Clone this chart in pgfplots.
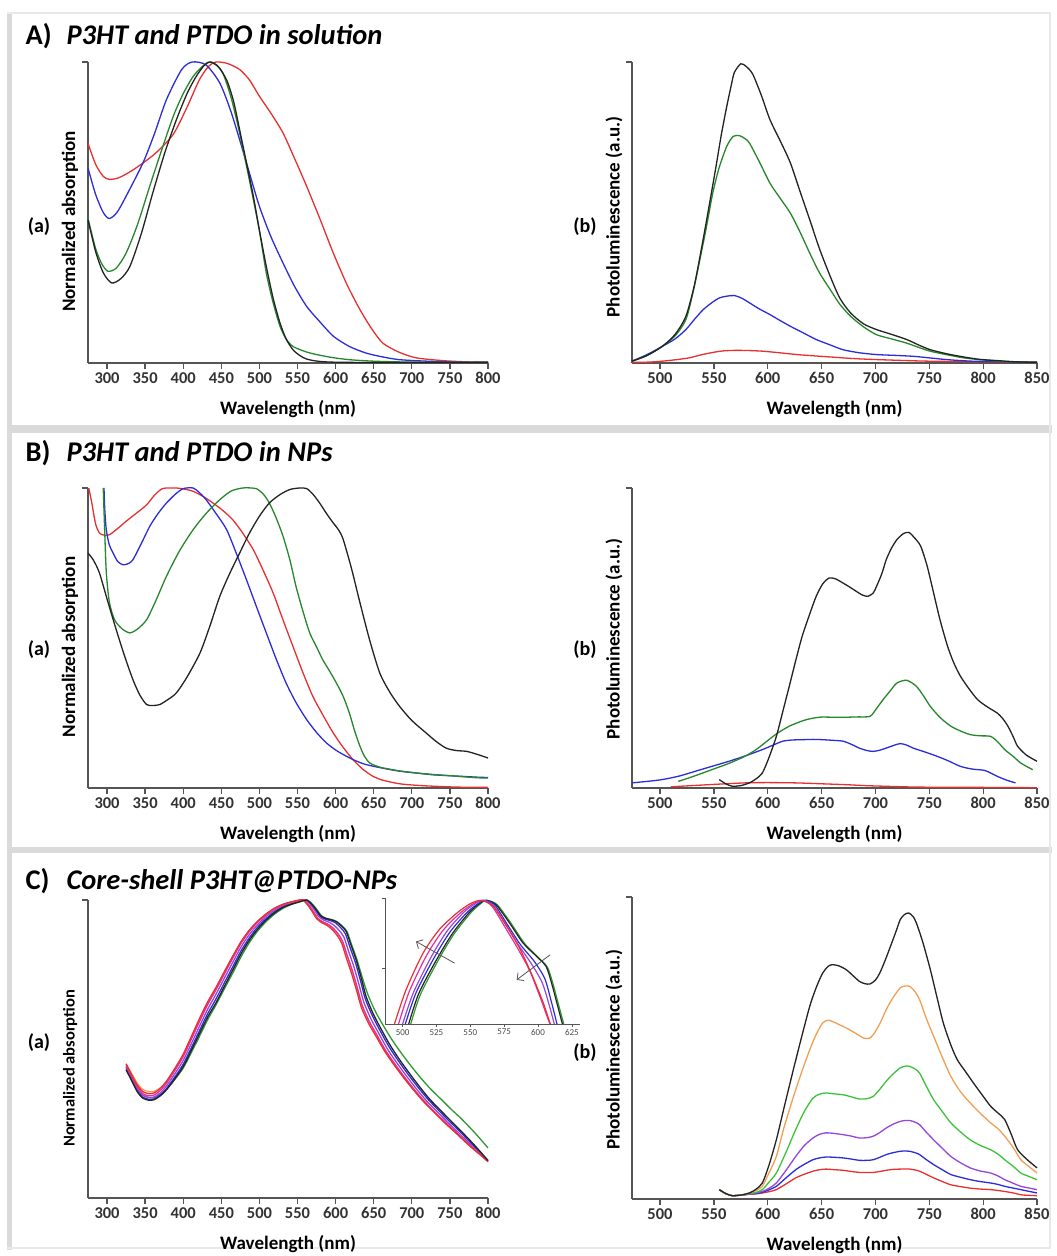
\documentclass[border=0pt]{standalone}
\usepackage{pgfplots}
\pgfplotsset{compat=1.18}
\usepackage{fontspec}
\setmainfont{Carlito}
\usetikzlibrary{arrows.meta}

\definecolor{axgray}{RGB}{85,85,85}
\definecolor{sepgray}{RGB}{218,218,218}
\definecolor{cRed}{RGB}{232,48,48}
\definecolor{cBlue}{RGB}{45,45,215}
\definecolor{cGreen}{RGB}{40,135,45}
\definecolor{cBlack}{RGB}{35,35,35}
\definecolor{cOrange}{RGB}{240,160,85}
\definecolor{cLGreen}{RGB}{60,195,60}
\definecolor{cViolet}{RGB}{150,70,220}
\definecolor{cMagenta}{RGB}{228,45,160}

\newcommand\tickfont{\fontsize{16.5}{16.5}\selectfont\bfseries}
\newcommand\labfont{\fontsize{19}{19}\selectfont\bfseries}
\newcommand\panfont{\fontsize{28.5}{28.5}\selectfont\bfseries}
\newcommand\subfont{\fontsize{20}{20}\selectfont\bfseries}

\pgfplotsset{
  panel/.style={
    scale only axis, clip=false, anchor=south west,
    axis x line=bottom, axis y line=left,
    axis line style={-, draw=axgray, line width=1.8pt},
    ymin=0, ymax=1, ytick={1}, yticklabels={},
    tick align=outside, major tick length=6pt,
    tick style={draw=axgray, line width=1.3pt},
    /pgf/number format/assume math mode=true,
    /pgf/number format/set thousands separator={},
    xticklabel style={font=\tickfont, text=black!80},
    every axis x label/.style={at={(axis description cs:0.5,0)}, anchor=center, yshift=-46pt, font=\labfont},
    every axis y label/.style={at={(axis description cs:0,0.47)}, anchor=center, xshift=-18pt, rotate=90, font=\labfont},
    xlabel={Wavelength (nm)},
    every axis plot/.append style={line width=1.3pt, smooth, tension=0.45},
  },
  absorb/.style={panel, width=400pt, xmin=275, xmax=800, xtick={300,350,...,800}, ylabel={Normalized absorption}},
  lumin/.style={panel, width=405pt, xmin=474, xmax=850, xtick={500,550,...,850}, ylabel={Photoluminescence (a.u.)}},
}

\begin{document}
\begin{tikzpicture}
\useasboundingbox (0,0) rectangle (1057pt,1256pt);
\fill[white] (0,0) rectangle (1057pt,1256pt);
% frame and separators
\fill[sepgray] (7pt,6pt) rectangle (12pt,1243pt);
\fill[sepgray] (7pt,823pt) rectangle (1052pt,831pt);
\fill[sepgray] (7pt,403pt) rectangle (1052pt,409pt);
\draw[sepgray!60, line width=1.5pt] (7pt,1243pt) -- (1050pt,1243pt) -- (1050pt,8pt) -- (7pt,8pt);

% titles
\node[anchor=base west, font=\panfont] at (22pt,1211pt) {A)};
\node[anchor=base west, font=\panfont\itshape] at (63pt,1211pt) {P3HT and PTDO in solution};
\node[anchor=base west, font=\panfont] at (22pt,794pt) {B)};
\node[anchor=base west, font=\panfont\itshape] at (63pt,794pt) {P3HT and PTDO in NPs};
\node[anchor=base west, font=\panfont] at (22pt,366pt) {C)};
\node[anchor=base west, font=\panfont\itshape] at (63pt,366pt) {Core-shell P3HT@PTDO-NPs};

\node[font=\subfont] at (39pt,1029pt) {(a)};
\node[font=\subfont] at (585pt,1029pt) {(b)};
\node[font=\subfont] at (39pt,606pt) {(a)};
\node[font=\subfont] at (585pt,606pt) {(b)};
\node[font=\subfont] at (39pt,213pt) {(a)};
\node[font=\subfont] at (585pt,203pt) {(b)};

% ---------- A (a) ----------
\begin{axis}[absorb, height=301pt, at={(88pt,893pt)}]
\addplot[cRed] coordinates {(275,0.73)(285,0.66)(295,0.62)(303,0.61)(315,0.615)(330,0.635)(347,0.664)(365,0.70)(387,0.76)(405,0.85)(421,0.94)(433,0.985)(443,1.0)(458,0.995)(474,0.975)(487,0.94)(500,0.886)(515,0.83)(531,0.764)(546,0.68)(562,0.587)(580,0.475)(597,0.365)(615,0.26)(632,0.177)(647,0.115)(662,0.066)(684,0.035)(706,0.017)(740,0.008)(770,0.004)(800,0.002)};
\addplot[cBlue] coordinates {(275,0.648)(285,0.56)(295,0.50)(303,0.48)(313,0.50)(325,0.554)(347,0.664)(362,0.76)(378,0.875)(398,0.975)(412,1.0)(430,0.99)(448,0.93)(462,0.84)(474,0.742)(487,0.63)(500,0.52)(515,0.42)(531,0.332)(546,0.255)(562,0.188)(580,0.135)(597,0.089)(618,0.055)(640,0.033)(662,0.02)(684,0.011)(720,0.006)(760,0.003)(800,0.002)};
\addplot[cGreen] coordinates {(275,0.48)(285,0.38)(293,0.33)(301,0.305)(312,0.315)(325,0.365)(340,0.46)(356,0.587)(372,0.71)(387,0.82)(400,0.895)(413,0.952)(425,0.985)(434,1.0)(443,0.99)(452,0.963)(463,0.88)(474,0.764)(483,0.655)(492,0.543)(500,0.44)(509,0.299)(518,0.2)(527,0.122)(535,0.08)(544,0.055)(560,0.038)(575,0.028)(596,0.018)(618,0.011)(650,0.006)(700,0.003)(800,0.002)};
\addplot[cBlack] coordinates {(275,0.476)(285,0.37)(295,0.30)(306,0.266)(318,0.28)(330,0.321)(345,0.43)(360,0.565)(376,0.70)(391,0.808)(405,0.895)(417,0.952)(428,0.99)(436,1.0)(446,0.985)(457,0.94)(466,0.87)(474,0.775)(483,0.665)(492,0.554)(500,0.44)(509,0.321)(518,0.215)(527,0.133)(535,0.08)(544,0.044)(553,0.025)(562,0.013)(580,0.005)(620,0.002)(800,0.002)};
\end{axis}

% ---------- A (b) ----------
\begin{axis}[lumin, height=301pt, at={(632pt,893pt)}, every axis y label/.append style={at={(axis description cs:0,0.485)}}]
\addplot[cRed] coordinates {(474,0.002)(490,0.003)(502,0.006)(515,0.011)(527,0.017)(537,0.026)(546,0.033)(558,0.04)(571,0.042)(585,0.041)(596,0.039)(611,0.034)(627,0.028)(642,0.024)(658,0.02)(674,0.016)(689,0.013)(720,0.009)(750,0.006)(800,0.004)(850,0.003)};
\addplot[cBlue] coordinates {(474,0.006)(488,0.028)(502,0.055)(514,0.08)(524,0.111)(532,0.145)(540,0.177)(548,0.2)(555,0.216)(562,0.222)(569,0.224)(576,0.215)(583,0.2)(592,0.18)(602,0.161)(611,0.142)(621,0.122)(633,0.1)(645,0.078)(658,0.06)(670,0.044)(685,0.034)(701,0.028)(720,0.025)(736,0.022)(750,0.017)(767,0.011)(790,0.006)(820,0.004)(850,0.002)};
\addplot[cGreen] coordinates {(474,0.006)(488,0.025)(502,0.055)(514,0.09)(524,0.144)(531,0.24)(537,0.343)(543,0.45)(549,0.565)(555,0.65)(562,0.72)(568,0.753)(574,0.755)(579,0.745)(583,0.731)(592,0.67)(602,0.598)(611,0.55)(621,0.498)(630,0.435)(639,0.365)(648,0.3)(658,0.244)(667,0.195)(677,0.155)(689,0.12)(701,0.094)(715,0.08)(729,0.066)(740,0.052)(751,0.039)(767,0.027)(782,0.017)(800,0.01)(820,0.005)(850,0.002)};
\addplot[cBlack] coordinates {(474,0.006)(488,0.025)(502,0.055)(514,0.095)(524,0.155)(532,0.26)(540,0.41)(546,0.53)(552,0.653)(557,0.76)(562,0.853)(566,0.92)(569,0.965)(575,0.994)(580,0.985)(586,0.96)(594,0.89)(602,0.809)(612,0.735)(621,0.665)(630,0.57)(639,0.476)(648,0.38)(658,0.288)(667,0.215)(677,0.166)(689,0.13)(701,0.111)(715,0.095)(729,0.078)(740,0.06)(751,0.044)(767,0.03)(782,0.02)(797,0.012)(813,0.008)(830,0.004)(850,0.002)};
\end{axis}

% ---------- B (a) ----------
\begin{axis}[absorb, height=300pt, at={(88pt,468pt)}]
\addplot[cRed] coordinates {(276,1.0)(280,0.95)(285,0.88)(290,0.85)(296,0.843)(303,0.844)(314,0.865)(325,0.889)(338,0.915)(352,0.944)(362,0.975)(373,0.998)(391,1.0)(402,0.996)(413,0.989)(426,0.972)(439,0.95)(452,0.925)(465,0.894)(478,0.85)(492,0.794)(505,0.725)(518,0.65)(531,0.56)(544,0.472)(557,0.385)(570,0.306)(584,0.24)(597,0.183)(610,0.135)(623,0.094)(636,0.062)(649,0.039)(662,0.026)(684,0.014)(706,0.009)(728,0.006)(760,0.003)(800,0.002)};
\addplot[cBlue] coordinates {(296,1.0)(297,0.93)(299,0.861)(303,0.81)(308,0.783)(314,0.755)(321,0.744)(328,0.748)(334,0.761)(345,0.815)(356,0.872)(367,0.915)(378,0.95)(390,0.98)(400,0.998)(413,1.0)(421,0.985)(430,0.961)(443,0.915)(457,0.861)(470,0.78)(483,0.694)(496,0.605)(509,0.517)(522,0.43)(535,0.35)(548,0.285)(562,0.228)(575,0.185)(588,0.15)(601,0.125)(614,0.106)(627,0.09)(640,0.078)(662,0.066)(684,0.056)(706,0.05)(728,0.044)(757,0.04)(787,0.036)(800,0.035)};
\addplot[cGreen] coordinates {(295,1.0)(297,0.85)(299,0.72)(303,0.62)(310,0.56)(320,0.53)(330,0.517)(340,0.53)(352,0.561)(365,0.63)(378,0.706)(395,0.79)(413,0.861)(430,0.915)(448,0.961)(463,0.99)(478,1.0)(490,1.0)(496,0.998)(505,0.98)(513,0.95)(522,0.9)(531,0.839)(540,0.76)(548,0.672)(557,0.59)(566,0.517)(575,0.47)(583,0.428)(592,0.39)(601,0.35)(610,0.305)(618,0.25)(625,0.19)(632,0.139)(638,0.105)(645,0.083)(655,0.072)(662,0.067)(684,0.057)(706,0.05)(728,0.045)(750,0.041)(770,0.037)(787,0.034)(800,0.033)};
\addplot[cBlack] coordinates {(275,0.783)(282,0.76)(290,0.717)(300,0.63)(312,0.528)(323,0.44)(334,0.361)(343,0.31)(352,0.278)(360,0.275)(369,0.278)(380,0.295)(391,0.317)(405,0.37)(422,0.45)(435,0.54)(448,0.639)(461,0.715)(474,0.783)(487,0.85)(500,0.906)(513,0.95)(527,0.978)(540,0.995)(553,1.0)(562,0.998)(570,0.98)(579,0.95)(588,0.915)(597,0.883)(604,0.86)(610,0.828)(621,0.73)(632,0.617)(645,0.49)(658,0.383)(671,0.32)(684,0.272)(700,0.225)(719,0.183)(732,0.155)(745,0.133)(758,0.125)(772,0.122)(786,0.112)(800,0.1)};
\end{axis}

% ---------- B (b) ----------
\begin{axis}[lumin, height=300pt, at={(632pt,468pt)}, every axis y label/.append style={at={(axis description cs:0,0.497)}}]
\addplot[cRed] coordinates {(510,0.004)(530,0.008)(550,0.012)(579,0.017)(600,0.018)(626,0.017)(650,0.014)(673,0.011)(690,0.008)(707,0.006)(740,0.003)(800,0.002)(850,0.001)};
\addplot[cBlue] coordinates {(474,0.017)(488,0.022)(502,0.028)(518,0.04)(533,0.056)(548,0.072)(564,0.089)(580,0.108)(595,0.128)(605,0.143)(614,0.156)(623,0.16)(632,0.161)(642,0.162)(651,0.161)(660,0.159)(670,0.156)(678,0.145)(685,0.133)(692,0.125)(698,0.122)(704,0.126)(710,0.133)(717,0.142)(723,0.148)(729,0.143)(735,0.133)(746,0.12)(757,0.106)(768,0.09)(779,0.072)(790,0.063)(801,0.059)(807,0.05)(813,0.039)(822,0.026)(830,0.017)};
\addplot[cGreen] coordinates {(517,0.022)(532,0.04)(548,0.061)(564,0.082)(579,0.106)(590,0.13)(601,0.161)(610,0.185)(620,0.206)(628,0.218)(636,0.228)(648,0.236)(660,0.236)(673,0.236)(684,0.237)(695,0.239)(701,0.265)(707,0.294)(714,0.325)(720,0.35)(729,0.359)(738,0.339)(745,0.305)(751,0.272)(760,0.235)(770,0.206)(779,0.19)(788,0.178)(797,0.174)(807,0.172)(814,0.152)(820,0.128)(828,0.105)(835,0.083)(846,0.061)};
\addplot[cBlack] coordinates {(555,0.028)(561,0.014)(567,0.006)(575,0.008)(583,0.017)(589,0.03)(595,0.05)(601,0.1)(608,0.172)(614,0.255)(620,0.339)(626,0.425)(632,0.506)(639,0.58)(645,0.639)(651,0.68)(657,0.7)(663,0.697)(670,0.683)(676,0.67)(682,0.656)(688,0.643)(693,0.639)(698,0.65)(701,0.672)(706,0.715)(710,0.761)(715,0.8)(720,0.828)(726,0.848)(731,0.852)(736,0.835)(742,0.806)(748,0.74)(754,0.65)(760,0.56)(767,0.472)(773,0.415)(779,0.372)(787,0.33)(795,0.294)(804,0.27)(813,0.25)(818,0.232)(823,0.206)(828,0.17)(832,0.139)(840,0.11)(850,0.089)};
\end{axis}

% ---------- C (a) ----------
\begin{axis}[absorb, height=298pt, at={(88pt,58pt)}, every axis y label/.append style={at={(axis description cs:0,0.435)}, font=\fontsize{16.5}{16.5}\selectfont\bfseries}]
\addplot[cGreen!70!cLGreen] coordinates {(325,0.44)(330,0.415)(334,0.395)(340,0.367)(347,0.345)(355,0.337)(362,0.338)(370,0.348)(378,0.365)(389,0.398)(400,0.436)(411,0.49)(422,0.546)(432,0.598)(443,0.648)(454,0.702)(465,0.755)(476,0.81)(487,0.858)(498,0.897)(509,0.928)(520,0.953)(531,0.972)(542,0.985)(553,0.994)(563,1.0)(570,0.985)(576,0.966)(581,0.948)(587,0.939)(595,0.934)(602,0.927)(609,0.912)(615,0.894)(621,0.85)(628,0.8)(635,0.74)(642,0.685)(651,0.632)(660,0.59)(673,0.535)(686,0.487)(699,0.443)(712,0.402)(725,0.365)(739,0.33)(752,0.297)(765,0.266)(783,0.218)(800,0.168)};
\addplot[cBlue] coordinates {(325,0.435)(330,0.41)(334,0.39)(340,0.36)(347,0.338)(355,0.331)(362,0.333)(370,0.346)(378,0.367)(389,0.406)(400,0.449)(411,0.506)(422,0.565)(432,0.618)(443,0.668)(454,0.722)(465,0.776)(476,0.83)(487,0.874)(498,0.91)(509,0.938)(520,0.961)(531,0.978)(542,0.988)(553,0.996)(561,1.0)(568,0.985)(574,0.965)(579,0.947)(585,0.937)(593,0.931)(600,0.923)(607,0.906)(613,0.886)(619,0.84)(626,0.79)(633,0.726)(639,0.668)(648,0.613)(657,0.568)(670,0.508)(683,0.458)(696,0.412)(709,0.369)(722,0.329)(736,0.292)(749,0.258)(762,0.226)(781,0.175)(800,0.125)};
\addplot[cViolet] coordinates {(325,0.44)(330,0.415)(334,0.395)(340,0.366)(347,0.344)(355,0.337)(362,0.339)(370,0.353)(378,0.376)(389,0.417)(400,0.462)(411,0.52)(422,0.58)(432,0.633)(443,0.684)(454,0.738)(465,0.791)(476,0.843)(487,0.885)(498,0.918)(509,0.945)(520,0.966)(531,0.981)(542,0.99)(553,0.997)(560,1.0)(567,0.984)(573,0.963)(578,0.944)(584,0.933)(591,0.926)(598,0.915)(605,0.897)(611,0.875)(617,0.828)(624,0.776)(631,0.713)(637,0.657)(646,0.603)(655,0.56)(668,0.5)(681,0.451)(694,0.406)(707,0.363)(720,0.324)(734,0.288)(747,0.254)(760,0.222)(780,0.172)(800,0.122)};
\addplot[cOrange] coordinates {(325,0.45)(330,0.428)(334,0.41)(340,0.384)(347,0.364)(355,0.357)(362,0.358)(370,0.37)(378,0.39)(389,0.43)(400,0.476)(411,0.536)(422,0.597)(432,0.65)(443,0.7)(454,0.753)(465,0.807)(476,0.857)(487,0.897)(498,0.927)(509,0.952)(520,0.971)(531,0.985)(542,0.993)(552,0.999)(558,1.0)(565,0.982)(571,0.96)(576,0.94)(582,0.928)(589,0.92)(596,0.907)(603,0.887)(609,0.862)(615,0.815)(622,0.762)(629,0.7)(635,0.645)(644,0.593)(653,0.552)(666,0.493)(679,0.445)(692,0.4)(705,0.358)(718,0.32)(732,0.284)(745,0.251)(758,0.22)(779,0.17)(800,0.122)};
\addplot[cMagenta] coordinates {(325,0.445)(330,0.42)(334,0.4)(340,0.372)(347,0.35)(355,0.343)(362,0.346)(370,0.361)(378,0.385)(389,0.428)(400,0.475)(411,0.535)(422,0.596)(432,0.649)(443,0.699)(454,0.752)(465,0.805)(476,0.855)(487,0.895)(498,0.926)(509,0.951)(520,0.971)(531,0.984)(542,0.993)(552,0.999)(558,1.0)(565,0.982)(571,0.96)(576,0.94)(582,0.928)(589,0.92)(596,0.907)(603,0.887)(609,0.862)(615,0.815)(622,0.762)(629,0.7)(635,0.645)(644,0.593)(653,0.552)(666,0.493)(679,0.445)(692,0.4)(705,0.358)(718,0.32)(732,0.284)(745,0.251)(758,0.22)(779,0.17)(800,0.122)};
\addplot[cRed] coordinates {(325,0.45)(330,0.425)(334,0.405)(340,0.378)(347,0.357)(355,0.35)(362,0.353)(370,0.368)(378,0.392)(389,0.435)(400,0.483)(411,0.544)(422,0.606)(432,0.658)(443,0.707)(454,0.76)(465,0.812)(476,0.861)(487,0.9)(498,0.93)(509,0.954)(520,0.973)(531,0.986)(542,0.994)(551,0.999)(557,1.0)(564,0.981)(570,0.958)(575,0.938)(581,0.925)(588,0.916)(595,0.902)(602,0.881)(608,0.855)(614,0.806)(621,0.753)(628,0.692)(634,0.638)(643,0.587)(652,0.547)(665,0.49)(678,0.442)(691,0.398)(704,0.357)(717,0.319)(731,0.283)(744,0.25)(757,0.22)(778,0.17)(800,0.125)};
\addplot[cBlack] coordinates {(325,0.43)(330,0.405)(334,0.385)(340,0.355)(347,0.335)(355,0.328)(362,0.33)(370,0.343)(378,0.363)(389,0.4)(400,0.441)(411,0.497)(422,0.555)(432,0.607)(443,0.655)(454,0.71)(465,0.765)(476,0.82)(487,0.866)(498,0.903)(509,0.933)(520,0.957)(531,0.975)(542,0.986)(553,0.994)(562,1.0)(569,0.985)(575,0.966)(580,0.948)(586,0.939)(594,0.934)(601,0.927)(608,0.912)(614,0.894)(620,0.85)(627,0.799)(634,0.735)(640,0.676)(649,0.62)(658,0.575)(671,0.515)(684,0.464)(697,0.418)(710,0.374)(723,0.333)(737,0.296)(750,0.262)(763,0.229)(782,0.178)(800,0.126)};
\end{axis}

% ---------- C inset ----------
\begin{axis}[scale only axis, width=195pt, height=126pt, at={(385pt,232pt)}, anchor=south west,
  axis x line=bottom, axis y line=left, axis line style={-, draw=axgray, line width=0.8pt},
  xmin=487, xmax=631, ymin=0, ymax=1, xtick={500,525,...,625}, ytick={0.44,1}, yticklabels={},
  tick align=outside, major tick length=3pt, tick style={draw=axgray, line width=0.6pt},
  /pgf/number format/assume math mode=true,
  xticklabel style={font=\fontsize{9}{9}\selectfont, text=black!70, inner sep=2pt},
  clip=false, every axis plot/.append style={line width=1.2pt, smooth, tension=0.45}]
\addplot[cGreen!70!cLGreen] coordinates {(506,0)(513,0.23)(526,0.50)(538,0.715)(551,0.89)(560,0.975)(563,0.981)(570,0.945)(580,0.80)(590,0.64)(600,0.53)(607,0.45)(611,0.32)(615,0.16)(619,0)};
\addplot[cBlack] coordinates {(504.5,0)(512,0.244)(525,0.509)(537,0.721)(550,0.894)(559,0.973)(562,0.981)(569,0.947)(579,0.801)(589,0.642)(599,0.536)(606,0.456)(610,0.324)(614,0.164)(618,0)};
\addplot[cBlue] coordinates {(502,0)(510,0.25)(523,0.52)(535,0.73)(548,0.89)(558,0.972)(561,0.981)(568,0.945)(577,0.795)(587,0.63)(597,0.50)(605,0.36)(610,0.17)(614,0)};
\addplot[cViolet] coordinates {(500,0)(508,0.25)(521,0.53)(533,0.74)(546,0.895)(556,0.97)(560,0.981)(567,0.94)(576,0.79)(586,0.62)(595,0.48)(603,0.33)(608,0.16)(612,0)};
\addplot[cMagenta] coordinates {(497,0)(505,0.26)(518,0.55)(530,0.745)(543,0.885)(553,0.96)(559,0.981)(566,0.935)(575,0.78)(585,0.6)(594,0.42)(602,0.2)(607,0.05)(609,0)};
\addplot[cRed] coordinates {(494,0)(502.5,0.27)(515,0.56)(527,0.748)(540,0.88)(550,0.955)(558,0.981)(567,0.934)(577,0.775)(587,0.589)(596,0.377)(604,0.164)(609,0)};
\draw[-{Straight Barb[length=5pt]}, axgray, line width=0.8pt] (axis cs:538.4,0.483) -- (axis cs:509.9,0.655);
\draw[-{Straight Barb[length=5pt]}, axgray, line width=0.8pt] (axis cs:608.9,0.549) -- (axis cs:584.2,0.35);
\end{axis}

% ---------- C (b) ----------
\begin{axis}[lumin, height=302pt, at={(632pt,57pt)}, every axis y label/.append style={at={(axis description cs:0,0.495)}}]
\addplot[cRed] coordinates {(555,0.031)(561,0.018)(567,0.011)(575,0.013)(583,0.016)(589,0.017)(595,0.02)(601,0.024)(608,0.031)(617,0.05)(626,0.07)(634,0.082)(642,0.092)(648,0.097)(654,0.099)(662,0.097)(670,0.095)(678,0.091)(685,0.088)(692,0.088)(698,0.088)(704,0.091)(710,0.095)(716,0.098)(723,0.099)(732,0.099)(737,0.096)(741,0.092)(747,0.082)(754,0.07)(762,0.058)(770,0.047)(779,0.041)(788,0.036)(797,0.033)(807,0.031)(814,0.028)(820,0.025)(828,0.02)(835,0.014)(843,0.012)(850,0.011)};
\addplot[cBlue] coordinates {(555,0.031)(561,0.018)(567,0.011)(575,0.013)(583,0.016)(589,0.018)(595,0.022)(601,0.03)(608,0.042)(617,0.07)(626,0.097)(634,0.115)(642,0.13)(648,0.136)(654,0.139)(662,0.138)(670,0.136)(678,0.132)(685,0.128)(692,0.128)(698,0.13)(704,0.138)(710,0.147)(716,0.153)(723,0.158)(728,0.159)(732,0.158)(737,0.153)(741,0.147)(747,0.131)(754,0.114)(762,0.097)(770,0.081)(779,0.072)(788,0.064)(797,0.058)(807,0.053)(814,0.048)(820,0.042)(828,0.036)(835,0.031)(843,0.025)(850,0.02)};
\addplot[cViolet] coordinates {(555,0.031)(561,0.018)(567,0.011)(575,0.013)(583,0.016)(589,0.02)(595,0.025)(601,0.035)(608,0.053)(617,0.095)(626,0.141)(634,0.177)(642,0.202)(648,0.214)(654,0.219)(662,0.217)(670,0.213)(678,0.208)(685,0.202)(692,0.203)(698,0.208)(704,0.22)(710,0.235)(716,0.247)(723,0.257)(728,0.26)(732,0.26)(737,0.254)(741,0.246)(747,0.222)(754,0.196)(762,0.168)(770,0.141)(779,0.12)(788,0.103)(797,0.093)(807,0.086)(814,0.076)(820,0.064)(828,0.052)(835,0.042)(843,0.036)(850,0.031)};
\addplot[cLGreen] coordinates {(555,0.031)(561,0.018)(567,0.011)(575,0.013)(583,0.018)(589,0.022)(595,0.031)(601,0.055)(608,0.086)(617,0.155)(626,0.23)(634,0.29)(642,0.334)(648,0.347)(654,0.351)(662,0.348)(670,0.345)(678,0.338)(685,0.331)(692,0.332)(698,0.34)(704,0.363)(710,0.39)(716,0.413)(723,0.434)(728,0.44)(732,0.439)(737,0.43)(741,0.417)(747,0.375)(754,0.329)(762,0.29)(770,0.252)(779,0.222)(788,0.196)(797,0.178)(807,0.163)(814,0.148)(820,0.13)(828,0.108)(835,0.086)(843,0.074)(850,0.064)};
\addplot[cOrange] coordinates {(555,0.031)(561,0.018)(567,0.011)(575,0.013)(583,0.02)(589,0.028)(595,0.042)(601,0.085)(608,0.141)(615,0.235)(623,0.329)(631,0.415)(639,0.494)(645,0.545)(651,0.583)(656,0.592)(660,0.588)(666,0.578)(673,0.566)(681,0.55)(689,0.533)(694,0.532)(698,0.544)(704,0.58)(710,0.627)(716,0.665)(723,0.699)(727,0.705)(732,0.704)(737,0.685)(741,0.66)(747,0.6)(754,0.539)(762,0.47)(770,0.406)(779,0.355)(788,0.318)(797,0.285)(807,0.252)(814,0.232)(820,0.208)(828,0.17)(835,0.13)(843,0.106)(850,0.086)};
\addplot[cBlack] coordinates {(555,0.031)(561,0.018)(567,0.011)(575,0.013)(583,0.02)(589,0.032)(595,0.053)(601,0.11)(608,0.196)(615,0.3)(623,0.417)(631,0.53)(639,0.638)(645,0.7)(651,0.748)(656,0.77)(660,0.776)(666,0.772)(673,0.759)(679,0.74)(685,0.721)(690,0.713)(695,0.712)(700,0.725)(704,0.748)(709,0.79)(714,0.837)(719,0.885)(723,0.925)(727,0.942)(731,0.947)(735,0.935)(738,0.914)(744,0.85)(751,0.759)(757,0.67)(763,0.583)(770,0.51)(776,0.461)(784,0.42)(791,0.384)(799,0.345)(807,0.307)(814,0.284)(820,0.263)(826,0.215)(832,0.163)(841,0.13)(850,0.103)};
\end{axis}
\end{tikzpicture}
\end{document}
